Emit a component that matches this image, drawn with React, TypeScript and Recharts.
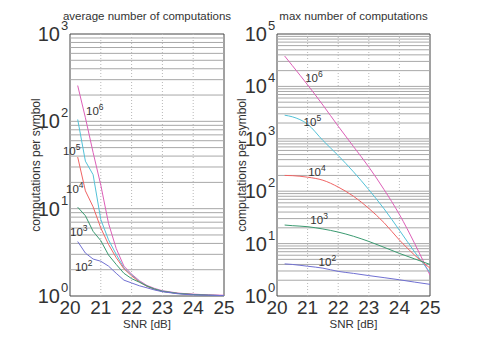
import React from 'react';
import { LineChart, Line, XAxis, YAxis, ReferenceLine, ReferenceDot, ReferenceArea } from 'recharts';

const FONT = '"Liberation Sans", Arial, Helvetica, sans-serif';

// ---- data: average number of computations ----
const snrAvg = [20.25, 20.5, 20.75, 21, 21.25, 21.5, 21.75, 22, 22.25, 22.5, 22.75, 23, 23.5, 24, 24.5, 25];
const avg1e6 = [257, 110, 44, 18.6, 6.8, 3.5, 2.2, 1.78, 1.5, 1.32, 1.22, 1.15, 1.08, 1.05, 1.03, 1.02];
const avg1e5 = [105, 35, 24.5, 7.5, 4.4, 3.0, 2.1, 1.74, 1.47, 1.3, 1.2, 1.14, 1.07, 1.04, 1.02, 1.01];
const avg1e4 = [39, 16, 10.5, 6, 3.9, 2.75, 2.05, 1.7, 1.45, 1.29, 1.19, 1.13, 1.07, 1.04, 1.02, 1.01];
const avg1e3 = [10.4, 8.3, 5.5, 4.3, 2.95, 2.3, 1.82, 1.58, 1.44, 1.3, 1.2, 1.13, 1.07, 1.04, 1.02, 1.01];
const avg1e2 = [4.2, 3.1, 2.65, 2.5, 2.2, 1.82, 1.52, 1.41, 1.31, 1.24, 1.17, 1.12, 1.06, 1.03, 1.02, 1.01];

// ---- data: max number of computations ----
const snrMax = [20.25, 20.5, 21, 21.5, 22, 22.5, 23, 23.5, 24, 24.5, 25];
const max1e6 = [38000, 25000, 10700, 4400, 1740, 710, 290, 107, 36, 10, 2.5];
const max1e5 = [2820, 2630, 1900, 930, 480, 234, 107, 46, 18, 6.9, 2.8];
const max1e4 = [200, 198, 185, 162, 120, 80, 47, 25, 11.7, 6.0, 3.4];
const max1e3 = [22.6, 22, 21, 19, 16.6, 13.8, 11, 8.5, 6.5, 5.1, 4.0];
const max1e2 = [4.1, 4.0, 3.7, 3.4, 2.95, 2.7, 2.45, 2.24, 2.04, 1.84, 1.67];

const xTicks = [20, 21, 22, 23, 24, 25];
const xGrid = [21, 22, 23, 24];
const avgYTicks = [1, 10, 100, 1000];
const maxYTicks = [1, 10, 100, 1000, 10000, 100000];

const seriesKeys = ['s6', 's5', 's4', 's3', 's2'];
const seriesColors = ['#dd5fb8', '#52c2d8', '#f06464', '#3a9a70', '#7070d2'];

// curve label anchors (data coords)
const avgLabels = [
  { x: 20.52, y: 118, e: 6 },
  { x: 19.77, y: 41, e: 5 },
  { x: 19.87, y: 15.3, e: 4 },
  { x: 20.0, y: 4.86, e: 3 },
  { x: 20.16, y: 1.93, e: 2 },
];
const maxLabels = [
  { x: 20.92, y: 12100, e: 6 },
  { x: 20.87, y: 1750, e: 5 },
  { x: 21.02, y: 195, e: 4 },
  { x: 21.09, y: 23.3, e: 3 },
  { x: 21.36, y: 3.74, e: 2 },
];

const buildRows = (xs: number[], cols: number[][]) =>
  xs.map((x, i) => {
    const r: any = { x };
    cols.forEach((c, j) => (r[seriesKeys[j]] = c[i]));
    return r;
  });

const avgRows = buildRows(snrAvg, [avg1e6, avg1e5, avg1e4, avg1e3, avg1e2]);
const maxRows = buildRows(snrMax, [max1e6, max1e5, max1e4, max1e3, max1e2]);

const minorGrid = (ticks: number[]) => {
  const out: number[] = [];
  for (let i = 0; i < ticks.length - 1; i++) {
    for (let k = 1; k <= 9; k++) {
      const v = ticks[i] * k;
      if (v > ticks[0]) out.push(v);
    }
  }
  return out;
};

const YTick = (props: any) => {
  const { x, y, payload } = props;
  const e = Math.round(Math.log10(payload.value));
  return (
    <g fontFamily={FONT} fill="#333">
      <text x={x - 10} y={y + 7} textAnchor="end" fontSize={20} fill="#333">10</text>
      <text x={x - 9} y={y - 4} textAnchor="start" fontSize={13} fill="#333">{e}</text>
    </g>
  );
};

const XTick = (props: any) => {
  const { x, y, payload } = props;
  return (
    <text x={x} y={y + 18} textAnchor="middle" fontSize={19} fill="#333" fontFamily={FONT}>
      {payload.value}
    </text>
  );
};

const CurveLabel = (props: any) => {
  const { cx, cy, exp } = props;
  return (
    <text x={cx} y={cy} fontSize={11.5} fill="#333" fontFamily={FONT}>
      10<tspan dy={-5} fontSize={8.5}>{exp}</tspan>
    </text>
  );
};

type PanelProps = {
  rows: any[];
  yTicks: number[];
  labels: { x: number; y: number; e: number }[];
  width: number;
  yAxisWidth: number;
  rightMargin: number;
  title: string;
  yLabelX: number;
  curve: 'linear' | 'monotone';
};

const Panel = ({ rows, yTicks, labels, width, yAxisWidth, rightMargin, title, yLabelX, curve }: PanelProps) => {
  const yMin = yTicks[0];
  const yMax = yTicks[yTicks.length - 1];
  const plotCenter = yAxisWidth + (width - yAxisWidth - rightMargin) / 2;
  return (
    <LineChart
      width={width}
      height={342}
      data={rows}
      margin={{ top: 34, right: rightMargin, bottom: 0, left: 0 }}
    >
      <XAxis
        dataKey="x"
        type="number"
        domain={[20, 25]}
        ticks={xTicks}
        height={46}
        axisLine={false}
        tickLine={false}
        tickSize={0}
        tickMargin={0}
        tick={<XTick />}
        interval={0}
        allowDataOverflow
      />
      <YAxis
        type="number"
        scale="log"
        domain={[yMin, yMax]}
        ticks={yTicks}
        width={yAxisWidth}
        axisLine={false}
        tickLine={false}
        tickSize={0}
        tickMargin={0}
        tick={<YTick />}
        interval={0}
        allowDataOverflow
      />
      {minorGrid(yTicks).map((v) => (
        <ReferenceLine key={'h' + v} y={v} stroke="#a8a8a8" strokeWidth={1} />
      ))}
      {xGrid.map((v) => (
        <ReferenceLine key={'v' + v} x={v} stroke="#b8b8b8" strokeWidth={1} strokeDasharray="1 2" />
      ))}
      <ReferenceArea x1={20} x2={25} y1={yMin} y2={yMax} fill="none" stroke="#444" strokeWidth={1} />
      {seriesKeys.map((k, i) => (
        <Line
          key={k}
          dataKey={k}
          stroke={seriesColors[i]}
          strokeWidth={1}
          dot={false}
          type={curve}
          isAnimationActive={false}
        />
      ))}
      {labels.map((l) => (
        <ReferenceDot
          key={'l' + l.e}
          x={l.x}
          y={l.y}
          r={0}
          ifOverflow="visible"
          shape={(p: any) => <CurveLabel {...p} exp={l.e} />}
        />
      ))}
      <text x={plotCenter} y={20} textAnchor="middle" fontSize={11.5} fill="#333" fontFamily={FONT}>
        {title}
      </text>
      <text x={plotCenter} y={328} textAnchor="middle" fontSize={11.5} fill="#333" fontFamily={FONT}>
        SNR [dB]
      </text>
      <text
        x={yLabelX}
        y={165}
        textAnchor="middle"
        fontSize={12}
        fill="#333"
        fontFamily={FONT}
        transform={`rotate(-90 ${yLabelX} 165)`}
        dominantBaseline="central"
      >
        computations per symbol
      </text>
    </LineChart>
  );
};

export default function App() {
  return (
    <div style={{ position: 'absolute', left: 0, top: 0, width: 485, height: 342, background: '#fff' }}>
      <div style={{ position: 'absolute', left: 0, top: 0 }}>
        <Panel
          rows={avgRows}
          yTicks={avgYTicks}
          labels={avgLabels}
          width={245}
          yAxisWidth={70}
          rightMargin={21}
          title="average number of computations"
          yLabelX={36}
          curve="linear"
        />
      </div>
      <div style={{ position: 'absolute', left: 230, top: 0 }}>
        <Panel
          rows={maxRows}
          yTicks={maxYTicks}
          labels={maxLabels}
          width={255}
          yAxisWidth={47}
          rightMargin={55}
          title="max number of computations"
          yLabelX={12}
          curve="monotone"
        />
      </div>
    </div>
  );
}
